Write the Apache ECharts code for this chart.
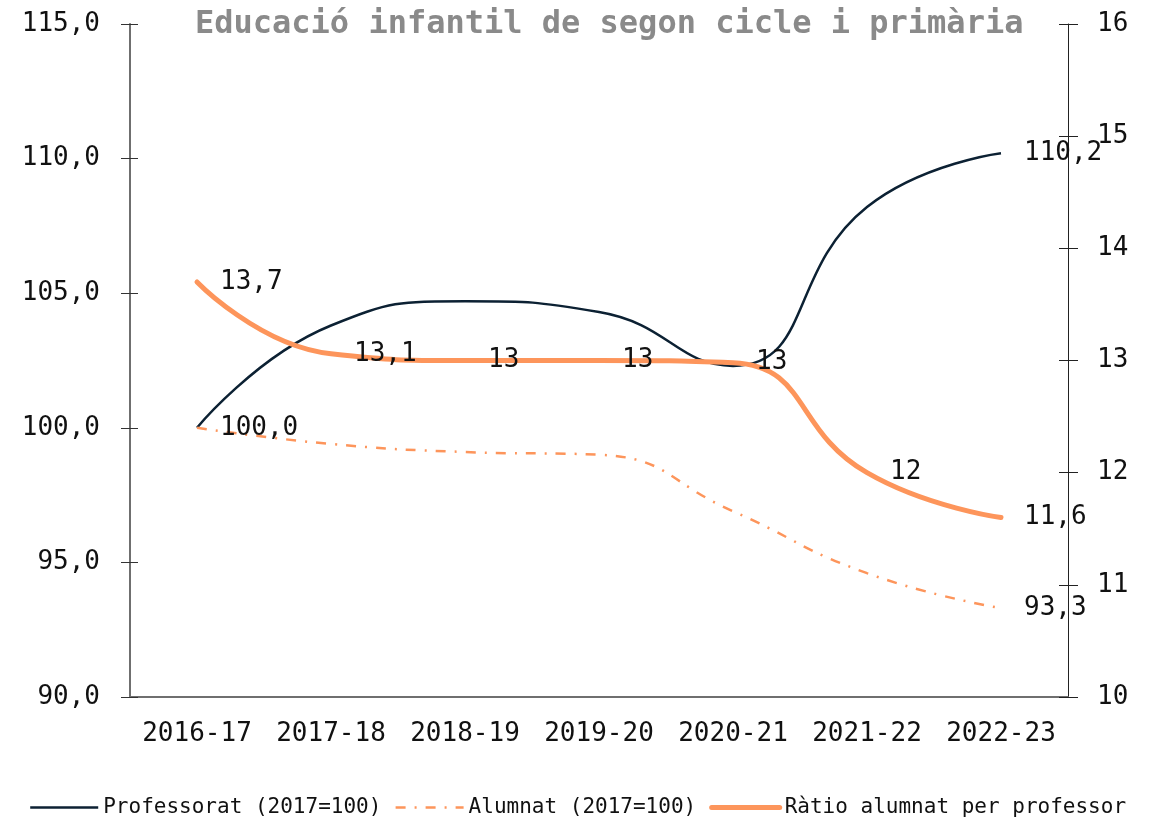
<!DOCTYPE html>
<html>
<head>
<meta charset="utf-8">
<script src="https://cdn.jsdelivr.net/npm/echarts@6/dist/echarts.min.js"></script>
<style>
    html, body {margin: 0; padding: 0; background: #fff;}
    #grafic {width: 1155px; height: 823px;}
</style>
</head>
<body>
<div id="grafic"></div>
<script>
var cursos = ['2016-17', '2017-18', '2018-19', '2019-20', '2020-21', '2021-22', '2022-23'];
var professorat = [100.0, 103.8, 104.7, 104.3, 102.3, 108.2, 110.2];
var alumnat = [100.0, 99.4, 99.1, 99.0, 96.9, 94.6, 93.3];
var ratio = [13.7, 13.06, 13.0, 13.0, 12.98, 12.0, 11.6];

var FONT = 'DejaVu Sans Mono';
var TARONJA = '#fd955b';
var BLAU = '#0c2133';

function coma(v, decimals) {
    return v.toFixed(decimals).replace('.', ',');
}

// etiquetes: nomes el primer i l'ultim punt
function extrems(last) {
    return function (p) {
        if (p.dataIndex === 0 || p.dataIndex === last) return coma(p.value, 1);
        return '';
    };
}

var etiqueta = {
    show: true, position: 'right', distance: 22,
    fontFamily: FONT, fontSize: 26, color: '#111'
};

var myChart = echarts.init(document.getElementById('grafic'));
var option = {
    backgroundColor: '#fff',
    animation: false,
    title: {
        text: 'Educació infantil de segon cicle i primària',
        left: 190,
        top: 4,
        textStyle: {fontFamily: FONT, fontSize: 32, fontWeight: 'bold', color: '#8a8a8a'}
    },
    legend: {
        top: 792,
        left: 'center',
        itemWidth: 68,
        itemHeight: 14,
        itemGap: 13,
        textStyle: {fontFamily: FONT, fontSize: 21, color: '#111'},
        data: [
            {name: 'Professorat (2017=100)', lineStyle: {width: 2.5}},
            {name: 'Alumnat (2017=100)', lineStyle: {width: 2.5}},
            {name: 'Ràtio alumnat per professor', lineStyle: {width: 5}}
        ]
    },
    grid: {left: 130, right: 87, top: 24, bottom: 126, containLabel: false, outerBoundsMode: 'none'},
    xAxis: [
        {
            type: 'category',
            data: cursos,
            position: 'bottom',
            axisLine: {lineStyle: {color: '#6f6f6f', width: 2}},
            axisTick: {length: 10, lineStyle: {color: '#333'}},
            axisLabel: {fontFamily: FONT, fontSize: 26, color: '#111', margin: 24, interval: 0}
        },
        {
            // marques cap a dins
            type: 'category',
            data: cursos,
            position: 'bottom',
            axisLine: {show: false},
            axisTick: {inside: true, length: 7, lineStyle: {color: '#333'}},
            axisLabel: {show: false}
        }
    ],
    yAxis: [
        {
            type: 'value',
            position: 'left',
            min: 90,
            max: 115,
            interval: 5,
            splitLine: {show: false},
            axisLine: {show: true, lineStyle: {color: '#6f6f6f', width: 2}},
            axisTick: {show: true, length: 9, lineStyle: {color: '#333'}},
            axisLabel: {
                fontFamily: FONT, fontSize: 26, color: '#111', margin: 30,
                formatter: function (v) { return coma(v, 1); }
            }
        },
        {
            type: 'value',
            position: 'right',
            min: 10,
            max: 16,
            interval: 1,
            splitLine: {show: false},
            axisLine: {show: true, lineStyle: {color: '#222', width: 1}},
            axisTick: {show: true, length: 10, lineStyle: {color: '#222'}},
            axisLabel: {fontFamily: FONT, fontSize: 26, color: '#111', margin: 29}
        },
        {
            type: 'value',
            position: 'left',
            min: 90,
            max: 115,
            interval: 5,
            splitLine: {show: false},
            axisLine: {show: false},
            axisTick: {show: true, inside: true, length: 8, lineStyle: {color: '#333'}},
            axisLabel: {show: false}
        },
        {
            type: 'value',
            position: 'right',
            min: 10,
            max: 16,
            interval: 1,
            splitLine: {show: false},
            axisLine: {show: false},
            axisTick: {show: true, inside: true, length: 9, lineStyle: {color: '#222'}},
            axisLabel: {show: false}
        }
    ],
    series: [
        {
            name: 'Professorat (2017=100)',
            type: 'line',
            yAxisIndex: 0,
            smooth: 0.5,
            symbol: 'circle',
            symbolSize: 2,
            data: professorat,
            lineStyle: {color: BLAU, width: 2.5},
            itemStyle: {color: 'rgba(0,0,0,0)'},
            label: Object.assign({}, etiqueta, {formatter: extrems(professorat.length - 1)})
        },
        {
            name: 'Alumnat (2017=100)',
            type: 'line',
            yAxisIndex: 0,
            smooth: 0.5,
            symbol: 'circle',
            symbolSize: 2,
            data: alumnat,
            lineStyle: {color: TARONJA, width: 2.5, type: [10, 9, 2, 9]},
            itemStyle: {color: 'rgba(0,0,0,0)'},
            label: Object.assign({}, etiqueta, {
                formatter: function (p) {
                    return p.dataIndex === alumnat.length - 1 ? coma(p.value, 1) : '';
                }
            })
        },
        {
            name: 'Ràtio alumnat per professor',
            type: 'line',
            yAxisIndex: 1,
            smooth: 0.5,
            symbol: 'circle',
            symbolSize: 2,
            data: ratio,
            lineStyle: {color: TARONJA, width: 5, cap: 'round'},
            itemStyle: {color: 'rgba(0,0,0,0)'},
            label: Object.assign({}, etiqueta, {
                formatter: function (p) {
                    return coma(p.value, 1).replace(',0', '');
                }
            })
        }
    ]
};
myChart.setOption(option);
</script>
</body>
</html>
